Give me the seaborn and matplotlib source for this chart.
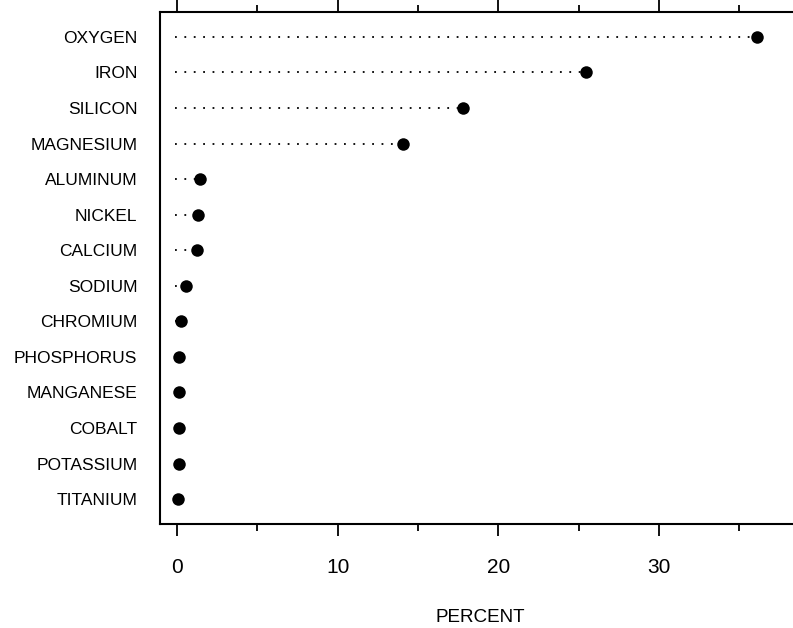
import matplotlib
matplotlib.use("Agg")
import matplotlib.pyplot as plt
from matplotlib.ticker import MultipleLocator
import seaborn as sns
import pandas as pd

# Composition of a stony meteorite, percent by weight
elements = ["OXYGEN", "IRON", "SILICON", "MAGNESIUM", "ALUMINUM", "NICKEL",
            "CALCIUM", "SODIUM", "CHROMIUM", "PHOSPHORUS", "MANGANESE",
            "COBALT", "POTASSIUM", "TITANIUM"]
percent = [36.1, 25.45, 17.8, 14.06, 1.43, 1.29, 1.22, 0.54, 0.23, 0.14,
           0.14, 0.10, 0.10, 0.06]

df = pd.DataFrame({"element": elements, "percent": percent})

sns.set_theme(style="white")
plt.rcParams["font.family"] = ["Liberation Sans", "DejaVu Sans"]
plt.rcParams["text.color"] = "black"
plt.rcParams["xtick.color"] = "black"
plt.rcParams["ytick.color"] = "black"
plt.rcParams["axes.labelcolor"] = "black"

W, H = 793, 628
fig = plt.figure(figsize=(W / 100, H / 100), dpi=100)
left, right, top, bottom = 160, 800, 12, 524
ax = fig.add_axes([left / W, (H - bottom) / H, (right - left) / W, (bottom - top) / H])

# dotted guide lines from the left of zero out to each value
rows = range(len(elements))
ax.hlines(rows, -0.12, df["percent"], colors="black", linewidth=1.3,
          linestyles=(0, (1, 4.2)), zorder=1)

sns.stripplot(data=df, x="percent", y="element", order=elements,
              jitter=False, color="black", size=9, linewidth=0, ax=ax, zorder=3)

ax.set_xlim(-1.06, (right - 177) / 16.07)
ax.set_ylim(len(elements) - 1 + 0.7, -0.7)

ax.xaxis.set_major_locator(MultipleLocator(10))
ax.xaxis.set_minor_locator(MultipleLocator(5))
ax.tick_params(axis="x", which="both", top=True, bottom=True, direction="out",
               color="black", width=1.3, labeltop=False)
ax.tick_params(axis="x", which="major", length=8.5, pad=16, labelsize=15)
ax.tick_params(axis="x", which="minor", length=5)
ax.tick_params(axis="y", length=0, pad=16.3, labelsize=12.5)

for side in ["left", "top", "bottom"]:
    ax.spines[side].set_color("black")
    ax.spines[side].set_linewidth(1.5)
ax.spines["right"].set_visible(False)

ax.set_ylabel("")
ax.set_xlabel("PERCENT", fontsize=13.6)
ax.xaxis.set_label_coords(0.5, -(609 - bottom) / (bottom - top))
ax.xaxis.label.set_verticalalignment("top")

fig.savefig("out.png", dpi=100)
